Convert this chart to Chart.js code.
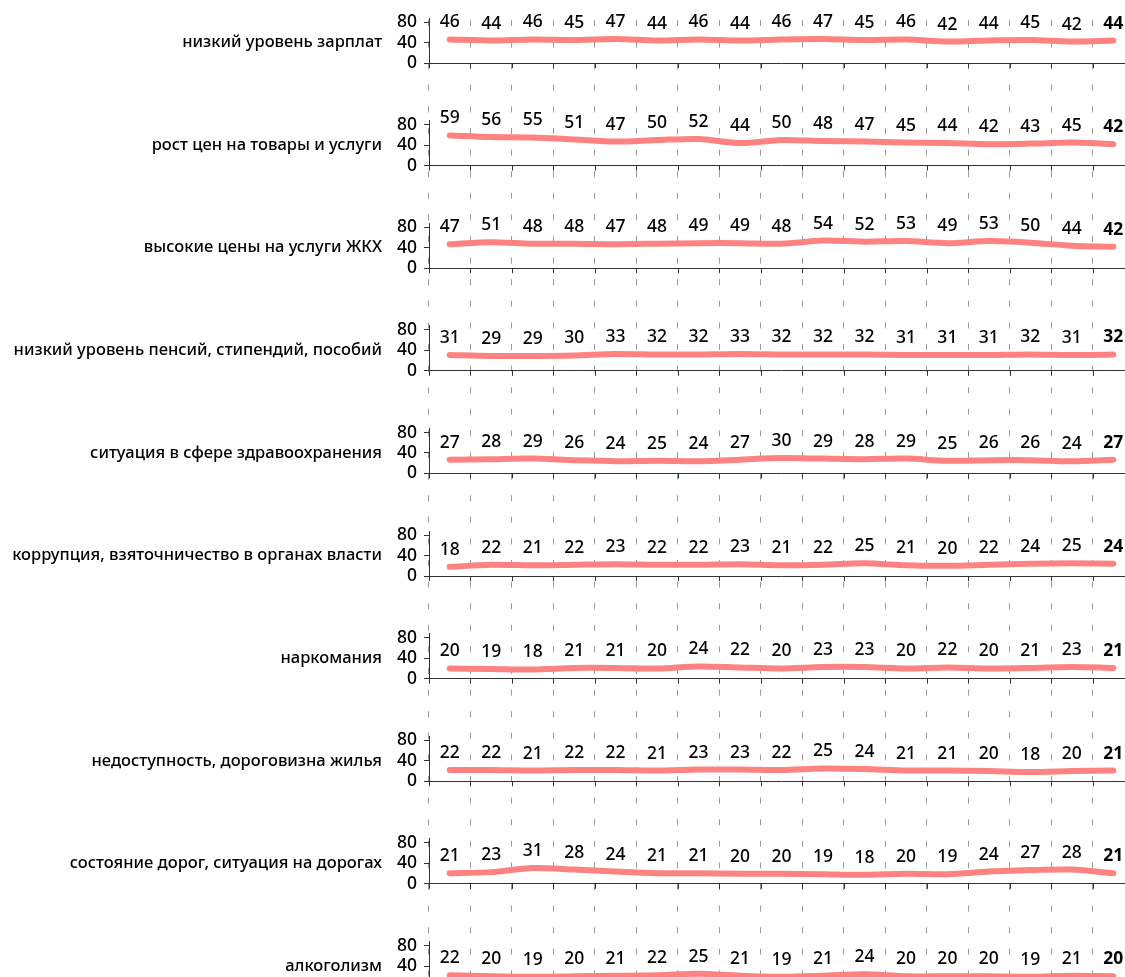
<!DOCTYPE html>
<html lang="ru">
<head>
<meta charset="utf-8">
<title>Проблемы</title>
<script src="https://cdn.jsdelivr.net/npm/chart.js@4.4.1/dist/chart.umd.min.js"></script>
<style>
  html, body { margin: 0; padding: 0; background: #fff; overflow: hidden; }
  #chart { display: block; }
</style>
</head>
<body>
<canvas id="chart" width="1140" height="1004"></canvas>
<script>
// данные
const waves = ['1', '2', '3', '4', '5', '6', '7', '8', '9', '10', '11', '12', '13', '14', '15', '16', '17'];
const problems = [
    'низкий уровень зарплат',
    'рост цен на товары и услуги',
    'высокие цены на услуги ЖКХ',
    'низкий уровень пенсий, стипендий, пособий',
    'ситуация в сфере здравоохранения',
    'коррупция, взяточничество в органах власти',
    'наркомания',
    'недоступность, дороговизна жилья',
    'состояние дорог, ситуация на дорогах',
    'алкоголизм'
];
const lowWages      = [46, 44, 46, 45, 47, 44, 46, 44, 46, 47, 45, 46, 42, 44, 45, 42, 44];
const priceGrowth   = [59, 56, 55, 51, 47, 50, 52, 44, 50, 48, 47, 45, 44, 42, 43, 45, 42];
const utilityPrices = [47, 51, 48, 48, 47, 48, 49, 49, 48, 54, 52, 53, 49, 53, 50, 44, 42];
const lowPensions   = [31, 29, 29, 30, 33, 32, 32, 33, 32, 32, 32, 31, 31, 31, 32, 31, 32];
const healthcare    = [27, 28, 29, 26, 24, 25, 24, 27, 30, 29, 28, 29, 25, 26, 26, 24, 27];
const corruption    = [18, 22, 21, 22, 23, 22, 22, 23, 21, 22, 25, 21, 20, 22, 24, 25, 24];
const drugs         = [20, 19, 18, 21, 21, 20, 24, 22, 20, 23, 23, 20, 22, 20, 21, 23, 21];
const housing       = [22, 22, 21, 22, 22, 21, 23, 23, 22, 25, 24, 21, 21, 20, 18, 20, 21];
const roads         = [21, 23, 31, 28, 24, 21, 21, 20, 20, 19, 18, 20, 19, 24, 27, 28, 21];
const alcoholism    = [22, 20, 19, 20, 21, 22, 25, 21, 19, 21, 24, 20, 20, 20, 19, 21, 20];
const series = [lowWages, priceGrowth, utilityPrices, lowPensions, healthcare,
    corruption, drugs, housing, roads, alcoholism];
const yTicks = [0, 40, 80];
const yMax = 88;

const family = "'Noto Sans', sans-serif";
const lineColor = '#ff8282';
const textColor = '#000';

// подписи значений над точками, последняя жирная
const valueLabels = {
    id: 'valueLabels',
    afterDatasetsDraw(chart) {
        const ctx = chart.ctx;
        ctx.save();
        ctx.textAlign = 'center';
        ctx.textBaseline = 'alphabetic';
        ctx.fillStyle = textColor;
        chart.data.datasets.forEach((ds, i) => {
            chart.getDatasetMeta(i).data.forEach((pt, j) => {
                const last = j === ds.data.length - 1;
                ctx.font = (last ? 'bold ' : '500 ') + '17.5px ' + family;
                ctx.fillText(ds.data[j], pt.x, pt.y - 12);
            });
        });
        ctx.restore();
    }
};

// названия панелей слева + засечки оси x на нулевой линии каждой панели
const panelNames = {
    id: 'panelNames',
    afterDraw(chart) {
        const ctx = chart.ctx;
        const x = chart.scales.x;
        const step = x.getPixelForValue(1) - x.getPixelForValue(0);
        ctx.save();
        ctx.font = '500 16.5px ' + family;
        ctx.textAlign = 'right';
        ctx.textBaseline = 'middle';
        ctx.fillStyle = textColor;
        ctx.strokeStyle = '#333';
        ctx.lineWidth = 1;
        problems.forEach((name, i) => {
            const s = chart.scales['y' + i];
            ctx.fillText(name, s.right - 47, s.getPixelForValue(40));
            const y0 = s.getPixelForValue(0);
            ctx.beginPath();
            for (let k = 0; k <= waves.length; k++) {
                const px = Math.round(x.getPixelForValue(0) + (k - 0.5) * step) + 0.5;
                ctx.moveTo(px, y0);
                ctx.lineTo(px, y0 + 5);
            }
            ctx.stroke();
        });
        ctx.restore();
    }
};

const scales = {
    x: {
        type: 'category',
        offset: true,
        ticks: { display: false },
        grid: { offset: true, color: '#9a9a9a', lineWidth: 1, drawTicks: false },
        border: { display: false, dash: [6, 15.6], dashOffset: -2 }
    }
};

problems.forEach((name, i) => {
    scales['y' + i] = {
        type: 'linear',
        position: 'left',
        stack: 'panels',
        stackWeight: 45,
        weight: 100 - 2 * i,
        min: 0,
        max: yMax,
        afterBuildTicks: s => { s.ticks = yTicks.map(v => ({ value: v })); },
        afterFit: s => { s.width = 429; },
        ticks: { font: { family: family, size: 17.5, weight: 500 }, color: textColor, padding: 7, autoSkip: false },
        grid: {
            color: c => (c.tick && c.tick.value === 0) ? '#333' : 'rgba(0,0,0,0)',
            tickColor: '#333',
            tickLength: 5,
            lineWidth: 1
        },
        border: { color: '#333' }
    };
    if (i < problems.length - 1) {
        scales['gap' + i] = {
            type: 'linear',
            position: 'left',
            stack: 'panels',
            stackWeight: 57.6,
            weight: 100 - 2 * i - 1,
            ticks: { display: false },
            grid: { display: false },
            border: { display: false }
        };
    }
});

const datasets = series.map((values, i) => ({
    label: problems[i],
    data: values,
    xAxisID: 'x',
    yAxisID: 'y' + i,
    borderColor: lineColor,
    borderWidth: 6,
    pointRadius: 0,
    tension: 0.3,
    borderCapStyle: 'round',
    borderJoinStyle: 'round',
    fill: false
}));

new Chart(document.getElementById('chart').getContext('2d'), {
    type: 'line',
    data: { labels: waves, datasets: datasets },
    options: {
        responsive: false,
        animation: false,
        devicePixelRatio: 1,
        layout: { padding: { top: 18, right: 6, bottom: 5.6, left: 0 } },
        scales: scales,
        plugins: {
            legend: { display: false },
            tooltip: { enabled: false }
        }
    },
    plugins: [valueLabels, panelNames]
});
</script>
</body>
</html>
